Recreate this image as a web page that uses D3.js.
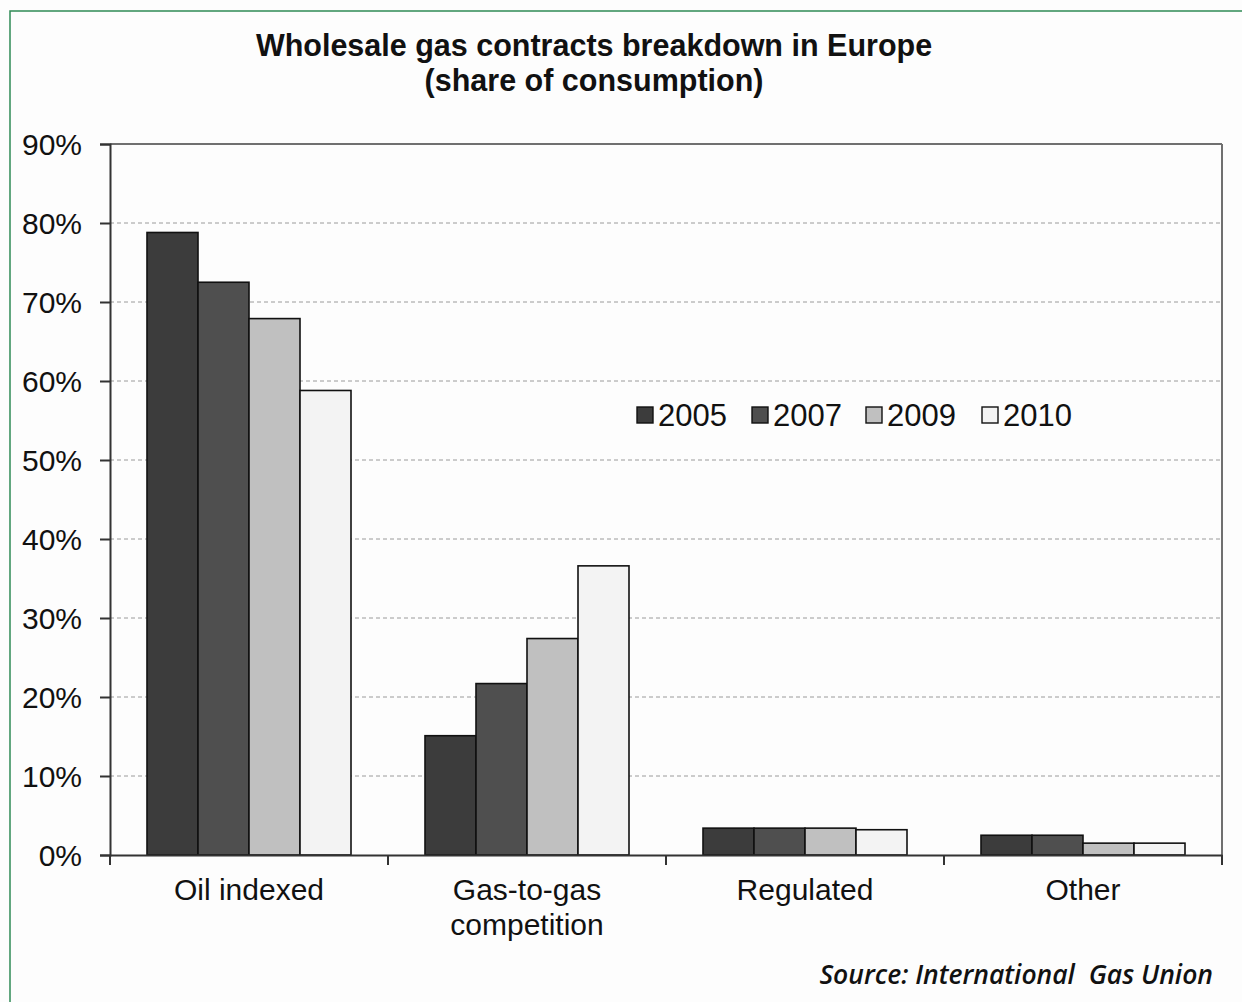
<!DOCTYPE html>
<html>
<head>
<meta charset="utf-8">
<script src="https://cdn.jsdelivr.net/npm/d3@7"></script>
<style>
  body { margin: 0; background: #fdfdfd; }
  svg { display: block; }
</style>
</head>
<body>
<div id="chart"></div>
<script>
// data
let categories = ["Oil indexed", "Gas-to-gas competition", "Regulated", "Other"];
let years = ["2005", "2007", "2009", "2010"];
let values2005 = [78.8, 15.1, 3.4, 2.5];
let values2007 = [72.5, 21.7, 3.4, 2.5];
let values2009 = [67.9, 27.4, 3.4, 1.5];
let values2010 = [58.8, 36.6, 3.2, 1.5];
let yTicks = [0, 10, 20, 30, 40, 50, 60, 70, 80, 90];
let seriesList = [values2005, values2007, values2009, values2010];
let colors = ["#3c3c3c", "#4f4f4f", "#c0c0c0", "#f3f3f3"];

let width = 1242, height = 1002;
let plotLeft = 110, plotRight = 1222, plotTop = 144, plotBottom = 855;
let fontMain = "Liberation Sans, Arial, sans-serif";

var svg = d3.select("#chart")
  .append("svg")
  .attr("width", width)
  .attr("height", height);

svg.append("rect")
  .attr("x", 0).attr("y", 0)
  .attr("width", width).attr("height", height)
  .attr("fill", "#fdfdfd");

// green frame, cut off at right and bottom
svg.append("rect")
  .attr("x", 10).attr("y", 11)
  .attr("width", 1300).attr("height", 1100)
  .attr("fill", "none")
  .attr("stroke", "#2f8a55")
  .attr("stroke-width", 1.5);

let x = d3.scaleBand().domain(categories).range([plotLeft, plotRight]);
// group of 4 bars ~204 px wide inside a 278 px band
let xInner = d3.scaleBand().domain(years)
  .range([37, x.bandwidth() - 37])
  .padding(0);
let y = d3.scaleLinear().domain([0, 90]).range([plotBottom, plotTop]);

// gridlines
svg.append("g")
  .selectAll("line")
  .data(yTicks.filter(d => d > 0 && d < 90))
  .join("line")
  .attr("x1", plotLeft).attr("x2", plotRight)
  .attr("y1", d => y(d)).attr("y2", d => y(d))
  .attr("stroke", "#9a9a9a")
  .attr("stroke-width", 1)
  .attr("stroke-dasharray", "4,3");

// plot frame top and right
svg.append("line")
  .attr("x1", plotLeft).attr("x2", plotRight)
  .attr("y1", plotTop).attr("y2", plotTop)
  .attr("stroke", "#707070").attr("stroke-width", 2);
svg.append("line")
  .attr("x1", plotRight).attr("x2", plotRight)
  .attr("y1", plotTop).attr("y2", plotBottom)
  .attr("stroke", "#707070").attr("stroke-width", 2);

// bars
let groups = svg.append("g")
  .selectAll("g")
  .data(categories)
  .join("g")
  .attr("transform", d => "translate(" + x(d) + ",0)");

groups.selectAll("rect")
  .data((d, i) => years.map((yr, j) => ({ year: yr, value: seriesList[j][i], color: colors[j] })))
  .join("rect")
  .attr("x", d => xInner(d.year))
  .attr("width", xInner.bandwidth())
  .attr("y", d => y(d.value))
  .attr("height", d => plotBottom - y(d.value))
  .attr("fill", d => d.color)
  .attr("stroke", "#111")
  .attr("stroke-width", 1.6);

// y axis
let yAxis = d3.axisLeft(y)
  .tickValues(yTicks)
  .tickFormat(d => d + "%")
  .tickSize(10)
  .tickPadding(18);

let yG = svg.append("g")
  .attr("transform", "translate(" + plotLeft + ",0)")
  .call(yAxis);
yG.select(".domain").attr("stroke", "#333").attr("stroke-width", 2);
yG.selectAll(".tick line").attr("stroke", "#333").attr("stroke-width", 2);
yG.selectAll("text")
  .attr("font-family", fontMain)
  .attr("font-size", 30)
  .attr("fill", "#111")
  .attr("dy", "0.36em");

// x axis
let xAxis = d3.axisBottom(x).tickSize(0).tickFormat("");
let xG = svg.append("g")
  .attr("transform", "translate(0," + plotBottom + ")")
  .call(xAxis);
xG.select(".domain").attr("stroke", "#333").attr("stroke-width", 2);

// tick marks at band edges
let edges = categories.map(c => x(c)).concat([plotRight]);
svg.append("g")
  .selectAll("line")
  .data(edges)
  .join("line")
  .attr("x1", d => d).attr("x2", d => d)
  .attr("y1", plotBottom).attr("y2", plotBottom + 10)
  .attr("stroke", "#333").attr("stroke-width", 2);

// category labels
let catLabels = [["Oil indexed"], ["Gas-to-gas", "competition"], ["Regulated"], ["Other"]];
svg.append("g")
  .selectAll("text")
  .data(categories)
  .join("text")
  .attr("x", d => x(d) + x.bandwidth() / 2)
  .attr("y", 900)
  .attr("text-anchor", "middle")
  .attr("font-family", fontMain)
  .attr("font-size", 30)
  .attr("fill", "#111")
  .each(function(d, i) {
    let t = d3.select(this);
    catLabels[i].forEach((line, k) => {
      t.append("tspan")
        .attr("x", x(d) + x.bandwidth() / 2)
        .attr("dy", k === 0 ? 0 : 35)
        .text(line);
    });
  });

// title
let title = svg.append("text")
  .attr("x", 594)
  .attr("y", 56)
  .attr("text-anchor", "middle")
  .attr("font-family", fontMain)
  .attr("font-weight", "bold")
  .attr("font-size", 30.5)
  .attr("fill", "#111");
title.append("tspan").attr("x", 594).attr("dy", 0).text("Wholesale gas contracts breakdown in Europe");
title.append("tspan").attr("x", 594).attr("dy", 35).text("(share of consumption)");

// legend
let legendX = [637, 752, 866, 982];
let legend = svg.append("g")
  .selectAll("g")
  .data(years)
  .join("g")
  .attr("transform", (d, i) => "translate(" + legendX[i] + ",406)");
legend.append("rect")
  .attr("x", 0).attr("y", 1)
  .attr("width", 16).attr("height", 16)
  .attr("fill", (d, i) => colors[i])
  .attr("stroke", "#111")
  .attr("stroke-width", 1.4);
legend.append("text")
  .attr("x", 21)
  .attr("y", 20)
  .attr("font-family", fontMain)
  .attr("font-size", 31)
  .attr("fill", "#111")
  .text(d => d);

// source
svg.append("text")
  .attr("x", 1213)
  .attr("y", 984)
  .attr("text-anchor", "end")
  .attr("font-family", "Open Sans, Noto Sans, sans-serif")
  .attr("font-style", "italic")
  .attr("font-weight", 600)
  .attr("font-size", 26.5)
  .attr("fill", "#111")
  .style("white-space", "pre")
  .text("Source: International  Gas Union");
</script>
</body>
</html>
